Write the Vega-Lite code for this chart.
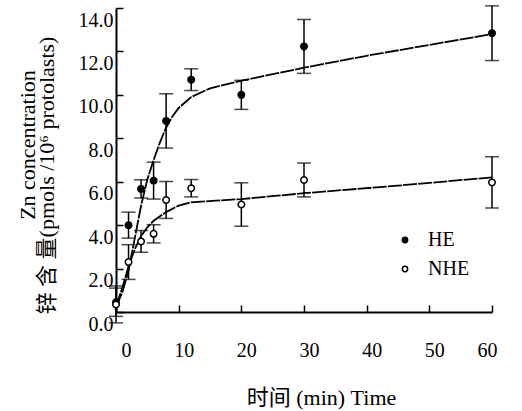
{
  "$schema": "https://vega.github.io/schema/vega-lite/v6.json",
  "width": 376,
  "height": 304,
  "autosize": "none",
  "padding": {"left": 116, "top": 8, "right": 30, "bottom": 99},
  "background": "white",
  "config": {
    "view": {"stroke": null},
    "font": "Liberation Serif",
    "axis": {
      "domainColor": "black", "domainWidth": 2, "tickColor": "black", "tickWidth": 1.5,
      "labelColor": "black", "titleColor": "black", "grid": false,
      "labelFont": "Liberation Serif", "titleFont": "'Liberation Serif', 'Noto Sans CJK SC'",
      "labelFontSize": 20, "titleFontSize": 22, "titleFontWeight": "normal"
    },
    "legend": {"labelFont": "Liberation Serif", "labelFontSize": 20, "labelColor": "black"}
  },
  "title": {
    "text": "Zn concentration",
    "orient": "left",
    "font": "Liberation Serif",
    "fontSize": 22,
    "fontWeight": "normal",
    "color": "black",
    "offset": -5,
    "dx": 15
  },
  "datasets": {
    "pts": [
      {"t": 0, "mean": 0.45, "err": 0.65, "group": "HE"},
      {"t": 2, "mean": 4.0, "err": 0.6, "group": "HE"},
      {"t": 4, "mean": 5.67, "err": 0.42, "group": "HE"},
      {"t": 6, "mean": 6.05, "err": 0.85, "group": "HE"},
      {"t": 8, "mean": 8.8, "err": 1.25, "group": "HE"},
      {"t": 12, "mean": 10.7, "err": 0.5, "group": "HE"},
      {"t": 20, "mean": 10.0, "err": 0.67, "group": "HE"},
      {"t": 30, "mean": 12.23, "err": 1.24, "group": "HE"},
      {"t": 60, "mean": 12.84, "err": 1.26, "group": "HE"},
      {"t": 0, "mean": 0.35, "err": 0.85, "group": "NHE"},
      {"t": 2, "mean": 2.3, "err": 0.8, "group": "NHE"},
      {"t": 4, "mean": 3.25, "err": 0.5, "group": "NHE"},
      {"t": 6, "mean": 3.6, "err": 0.42, "group": "NHE"},
      {"t": 8, "mean": 5.16, "err": 0.85, "group": "NHE"},
      {"t": 12, "mean": 5.7, "err": 0.4, "group": "NHE"},
      {"t": 20, "mean": 4.95, "err": 1.0, "group": "NHE"},
      {"t": 30, "mean": 6.08, "err": 0.78, "group": "NHE"},
      {"t": 60, "mean": 5.97, "err": 1.18, "group": "NHE"}
    ],
    "curve": [
      {"t": 0, "v": 0.25, "group": "HE"},
      {"t": 1, "v": 0.9, "group": "HE"},
      {"t": 2, "v": 1.9, "group": "HE"},
      {"t": 3, "v": 3.4, "group": "HE"},
      {"t": 4, "v": 4.9, "group": "HE"},
      {"t": 5, "v": 6.1, "group": "HE"},
      {"t": 6, "v": 7.0, "group": "HE"},
      {"t": 7, "v": 7.8, "group": "HE"},
      {"t": 8, "v": 8.5, "group": "HE"},
      {"t": 9, "v": 9.0, "group": "HE"},
      {"t": 10, "v": 9.4, "group": "HE"},
      {"t": 12, "v": 9.9, "group": "HE"},
      {"t": 15, "v": 10.3, "group": "HE"},
      {"t": 20, "v": 10.65, "group": "HE"},
      {"t": 25, "v": 10.95, "group": "HE"},
      {"t": 30, "v": 11.25, "group": "HE"},
      {"t": 40, "v": 11.8, "group": "HE"},
      {"t": 50, "v": 12.3, "group": "HE"},
      {"t": 60, "v": 12.8, "group": "HE"},
      {"t": 0, "v": 0.25, "group": "NHE"},
      {"t": 1, "v": 1.1, "group": "NHE"},
      {"t": 2, "v": 2.1, "group": "NHE"},
      {"t": 3, "v": 2.9, "group": "NHE"},
      {"t": 4, "v": 3.5, "group": "NHE"},
      {"t": 5, "v": 3.9, "group": "NHE"},
      {"t": 6, "v": 4.2, "group": "NHE"},
      {"t": 8, "v": 4.6, "group": "NHE"},
      {"t": 10, "v": 4.9, "group": "NHE"},
      {"t": 12, "v": 5.05, "group": "NHE"},
      {"t": 16, "v": 5.13, "group": "NHE"},
      {"t": 20, "v": 5.2, "group": "NHE"},
      {"t": 30, "v": 5.47, "group": "NHE"},
      {"t": 45, "v": 5.82, "group": "NHE"},
      {"t": 60, "v": 6.2, "group": "NHE"}
    ]
  },
  "layer": [
    {
      "data": {"name": "curve"},
      "mark": {"type": "line", "color": "black", "strokeWidth": 1.8, "strokeDash": [14, 1.2]},
      "encoding": {
        "x": {"field": "t", "type": "quantitative", "title": "时间  (min) Time"},
        "y": {"field": "v", "type": "quantitative", "title": "锌 含 量(pmols /10⁶ protolasts)"},
        "detail": {"field": "group"}
      }
    },
    {
      "data": {"name": "pts"},
      "mark": {"type": "errorbar", "ticks": {"size": 14, "thickness": 1.5, "color": "black"}, "rule": {"strokeWidth": 1.5, "color": "black"}},
      "encoding": {
        "x": {"field": "t", "type": "quantitative", "title": "时间  (min) Time"},
        "y": {"field": "mean", "type": "quantitative", "title": "锌 含 量(pmols /10⁶ protolasts)"},
        "yError": {"field": "err"},
        "detail": {"field": "group"}
      }
    },
    {
      "data": {"name": "pts"},
      "mark": {"type": "point", "shape": "circle", "filled": true, "stroke": "black", "strokeWidth": 1.5, "size": 42, "opacity": 1},
      "encoding": {
        "x": {
          "field": "t", "type": "quantitative", "title": "时间  (min) Time",
          "scale": {"domain": [0, 60], "nice": false, "zero": false},
          "axis": {
            "values": [0, 10, 20, 30, 40, 50, 60], "format": "d",
            "tickSize": -7, "labelPadding": 35, "labelOffset": 5,
            "titleX": 205, "titleY": 85, "titleBaseline": "middle"
          }
        },
        "y": {
          "field": "mean", "type": "quantitative", "title": "锌 含 量(pmols /10⁶ protolasts)",
          "scale": {"domain": [0, 14], "nice": false},
          "axis": {
            "values": [0, 2, 4, 6, 8, 10, 12, 14], "format": ".1f",
            "tickSize": -7, "labelPadding": 10, "labelOffset": 12,
            "titleAngle": -90, "titleX": -70, "titleY": 167,
            "titleBaseline": "middle", "titleAlign": "center"
          }
        },
        "fill": {
          "field": "group", "type": "nominal",
          "scale": {"domain": ["HE", "NHE"], "range": ["black", "white"]},
          "legend": {
            "title": null, "orient": "none", "legendX": 279, "legendY": 222,
            "symbolSize": 28, "symbolStrokeColor": "black", "symbolStrokeWidth": 1.5,
            "labelOffset": 13, "rowPadding": 9, "padding": 0
          }
        }
      }
    }
  ]
}
